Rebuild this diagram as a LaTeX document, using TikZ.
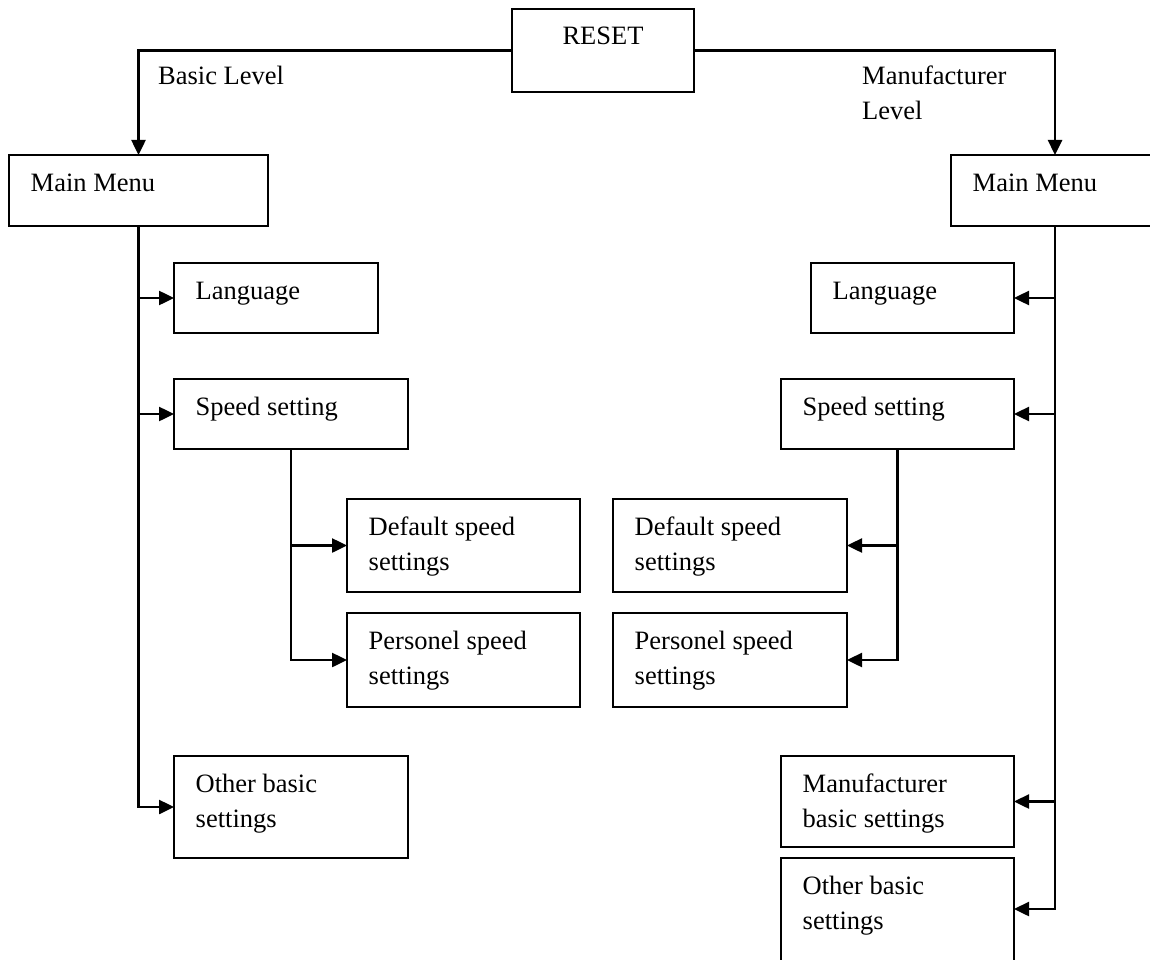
\documentclass[tikz,border=0pt]{standalone}
\usepackage{fontspec}
\setmainfont{Liberation Serif}
\usetikzlibrary{arrows.meta,calc}
\tikzset{
  box/.style={draw, line width=2.5pt, inner sep=0pt, outer sep=0pt, anchor=north west},
  txt/.style={anchor=base west, inner sep=0pt, font=\fontsize{26.5}{35}\selectfont},
  conn/.style={line width=2.5pt},
  arr/.style={conn, -{Triangle[length=15pt,width=14pt]}},
}
\newcommand{\mkbox}[5]{\node[box, minimum width={#4-#2}, minimum height={#5-#3}] (#1) at (#2,#3) {};}
\newcommand{\boxtext}[3]{\node[txt] (#1-t#2) at ($(#1.north west)+(21.5,{1+35*#2})$) {#3};}
\begin{document}
\begin{tikzpicture}[x=1pt,y=-1pt]
\useasboundingbox (0,0) rectangle (1150,960);
\clip (0,0) rectangle (1150,960);

% boxes
\mkbox{reset}{512}{9}{694}{92}
\node[txt, anchor=base] (reset-t) at (603,45) {RESET};

\mkbox{mmL}{9}{155}{268}{226}
\boxtext{mmL}{1}{Main Menu}
\mkbox{mmR}{951}{155}{1159}{226}
\boxtext{mmR}{1}{Main Menu}

\mkbox{langL}{174}{263}{378}{333}
\boxtext{langL}{1}{Language}
\mkbox{speedL}{174}{379}{408}{449}
\boxtext{speedL}{1}{Speed setting}
\mkbox{defL}{347}{499}{580}{592}
\boxtext{defL}{1}{Default speed}
\boxtext{defL}{2}{settings}
\mkbox{perL}{347}{613}{580}{707}
\boxtext{perL}{1}{Personel speed}
\boxtext{perL}{2}{settings}
\mkbox{othL}{174}{756}{408}{858}
\boxtext{othL}{1}{Other basic}
\boxtext{othL}{2}{settings}

\mkbox{langR}{811}{263}{1014}{333}
\boxtext{langR}{1}{Language}
\mkbox{speedR}{781}{379}{1014}{449}
\boxtext{speedR}{1}{Speed setting}
\mkbox{defR}{613}{499}{847}{592}
\boxtext{defR}{1}{Default speed}
\boxtext{defR}{2}{settings}
\mkbox{perR}{613}{613}{847}{707}
\boxtext{perR}{1}{Personel speed}
\boxtext{perR}{2}{settings}
\mkbox{manR}{781}{756}{1014}{847}
\boxtext{manR}{1}{Manufacturer}
\boxtext{manR}{2}{basic settings}
\mkbox{othR}{781}{858}{1014}{1000}
\boxtext{othR}{1}{Other basic}
\boxtext{othR}{2}{settings}
\path (othR.north east) ++(0,51) coordinate (othRin);

% level labels
\node[txt] (basic) at (158,85) {Basic Level};
\node[txt] (manu1) at (862,85) {Manufacturer};
\node[txt] (manu2) at (862,120) {Level};

% connectors
\draw[arr] (reset.west) -| (mmL.north);
\draw[arr] (reset.east) -| (mmR.north);

\draw[arr] (mmL.south) |- (othL.west);
\draw[arr] (mmL.south |- langL.west) -- (langL.west);
\draw[arr] (mmL.south |- speedL.west) -- (speedL.west);
\draw[arr] (speedL.south) |- (perL.west);
\draw[arr] (speedL.south |- defL.west) -- (defL.west);

\draw[arr] (mmR.south) |- (othRin);
\draw[arr] (mmR.south |- langR.east) -- (langR.east);
\draw[arr] (mmR.south |- speedR.east) -- (speedR.east);
\draw[arr] (mmR.south |- manR.east) -- (manR.east);
\draw[arr] (speedR.south) |- (perR.east);
\draw[arr] (speedR.south |- defR.east) -- (defR.east);
\end{tikzpicture}
\end{document}
